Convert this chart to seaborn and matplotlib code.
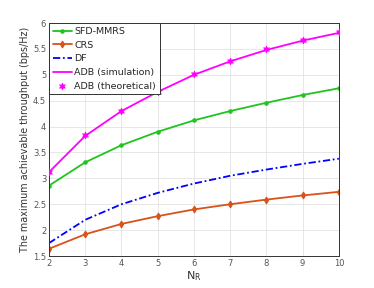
import matplotlib
matplotlib.use("Agg")
from matplotlib import pyplot as plt
import pandas as pd
import seaborn as sns

n_r = [2, 3, 4, 5, 6, 7, 8, 9, 10]
sfd_mmrs = [2.86, 3.31, 3.64, 3.90, 4.12, 4.30, 4.46, 4.61, 4.74]
crs = [1.64, 1.92, 2.12, 2.27, 2.40, 2.50, 2.59, 2.67, 2.74]
df_vals = [1.75, 2.20, 2.50, 2.72, 2.90, 3.05, 3.17, 3.28, 3.38]
adb_sim = [3.12, 3.82, 4.30, 4.67, 5.00, 5.26, 5.48, 5.66, 5.81]
adb_theo = [3.13, 3.84, 4.31, 4.67, 5.01, 5.27, 5.49, 5.67, 5.82]

series = {
    "SFD-MMRS": sfd_mmrs,
    "CRS": crs,
    "DF": df_vals,
    "ADB (simulation)": adb_sim,
}
df = pd.DataFrame(
    [(x, y, name) for name, ys in series.items() for x, y in zip(n_r, ys)],
    columns=["N_R", "throughput", "scheme"],
)
df_theo = pd.DataFrame({"N_R": n_r, "throughput": adb_theo})

sns.set_theme(style="whitegrid")
plt.rcParams["font.family"] = ["DejaVu Sans"]

fig = plt.figure(figsize=(3.74, 2.88), dpi=100)
ax = fig.add_axes([0.131, 0.111, 0.775, 0.809])

palette = {"SFD-MMRS": "#1fc41f", "CRS": "#d95319", "DF": "#0000ff", "ADB (simulation)": "#ff00ff"}
styles = {
    "SFD-MMRS": dict(ls="-", marker="o", ms=2.5),
    "CRS": dict(ls="-", marker="d", ms=3.5),
    "DF": dict(ls=(0, (4, 1.5, 1, 1.5)), marker=None, ms=0),
    "ADB (simulation)": dict(ls="-", marker=None, ms=0),
}
for name in series:
    sub = df[df["scheme"] == name]
    st = styles[name]
    sns.lineplot(data=sub, x="N_R", y="throughput", ax=ax, color=palette[name],
                 linestyle=st["ls"], marker=st["marker"], markersize=st["ms"],
                 markeredgecolor=palette[name], lw=1.3, label=name)
sns.scatterplot(data=df_theo, x="N_R", y="throughput", ax=ax, color="#ff00ff",
                marker=(6, 1, 0), s=24, edgecolor="#ff00ff", linewidth=0.5,
                label="ADB (theoretical)", zorder=5)

ax.set_xlim(2, 10)
ax.set_ylim(1.5, 6)
ax.set_xticks(n_r)
ax.set_yticks([1.5, 2, 2.5, 3, 3.5, 4, 4.5, 5, 5.5, 6])
ax.set_yticklabels(["1.5", "2", "2.5", "3", "3.5", "4", "4.5", "5", "5.5", "6"])
ax.tick_params(labelsize=6, colors="#555555", length=2, direction="in", pad=2)
ax.set_xlabel("N$_\\mathregular{R}$", fontsize=8, labelpad=1, color="#333333")
ax.set_ylabel("The maximum achievable throughput (bps/Hz)", fontsize=6.9, labelpad=2,
              color="#333333")
ax.grid(True, color="#e3e3e3", lw=0.6)
for sp in ax.spines.values():
    sp.set_color("#333333")
    sp.set_linewidth(0.7)

leg = ax.legend(loc="upper left", fontsize=6.8, frameon=True, fancybox=False,
                borderaxespad=0.0, handlelength=2.0, handletextpad=0.3,
                borderpad=0.4, labelspacing=0.5)
leg.get_frame().set_edgecolor("#333333")
leg.get_frame().set_linewidth(0.7)
leg.get_frame().set_alpha(1)

fig.savefig("out.png", dpi=100)
